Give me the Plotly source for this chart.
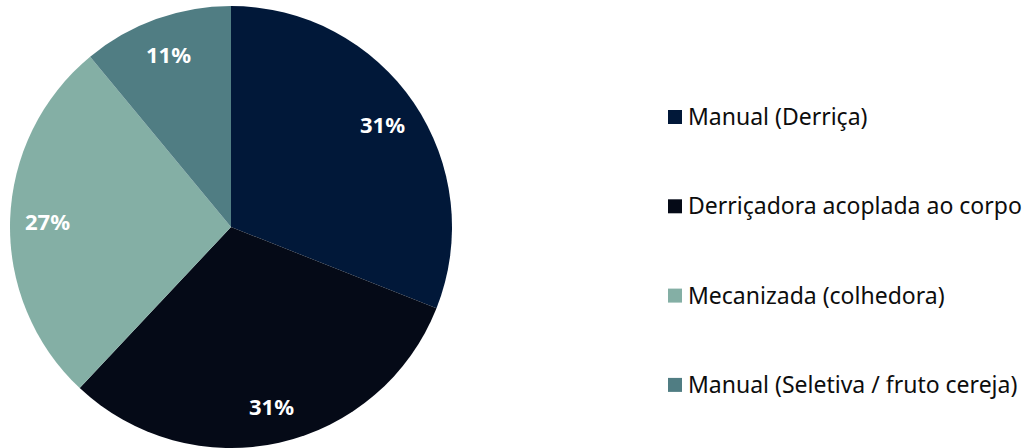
import math
import plotly.graph_objects as go

# Coffee harvest methods - share of area
labels = [
    "Manual (Derriça)",
    "Derriçadora acoplada ao corpo",
    "Mecanizada (colhedora)",
    "Manual (Seletiva / fruto cereja)",
]
values = [31, 31, 27, 11]
colors = ["#011839", "#050A17", "#84AFA5", "#507D83"]

W, H = 1030, 448
# pie geometry in pixels
cx, cy, R = 231, 227, 221

fig = go.Figure(
    go.Pie(
        labels=labels,
        values=values,
        sort=False,
        direction="clockwise",
        rotation=0,
        marker=dict(colors=colors, line=dict(width=0)),
        textinfo="none",
        hoverinfo="label+percent",
        showlegend=False,
        domain=dict(x=[(cx - R) / W, (cx + R) / W], y=[1 - (cy + R) / H, 1 - (cy - R) / H]),
    )
)

annotations = []
shapes = []

# percentage labels placed along each slice's bisector
total = sum(values)
cum = 0
for v in values:
    mid = (cum + v / 2) / total * 2 * math.pi
    cum += v
    r = 0.83 * R
    px = cx + r * math.sin(mid)
    py = cy - r * math.cos(mid)
    annotations.append(
        dict(
            x=px / W, y=1 - py / H, xref="paper", yref="paper",
            text=f"<b>{round(v / total * 100)}%</b>", showarrow=False,
            xanchor="center", yanchor="middle",
            font=dict(family="Noto Sans", size=22, color="white"),
        )
    )

# legend: colour square + label, evenly spaced
leg_x, leg_y0, leg_gap, sq = 668, 117, 89.3, 14
for i, (lab, col) in enumerate(zip(labels, colors)):
    yc = leg_y0 + i * leg_gap
    shapes.append(
        dict(
            type="rect", xref="paper", yref="paper",
            x0=leg_x / W, x1=(leg_x + sq) / W,
            y0=1 - (yc + sq / 2) / H, y1=1 - (yc - sq / 2) / H,
            fillcolor=col, line=dict(width=0),
        )
    )
    annotations.append(
        dict(
            x=(leg_x + sq + 4) / W, y=1 - (yc - 1) / H, xref="paper", yref="paper",
            text=lab, showarrow=False, xanchor="left", yanchor="middle",
            font=dict(family="Noto Sans", size=23, color="#0D0D0D"),
        )
    )

fig.update_layout(
    width=W, height=H,
    margin=dict(l=0, r=0, t=0, b=0),
    paper_bgcolor="white", plot_bgcolor="white",
    annotations=annotations, shapes=shapes,
)

fig.write_html("out.html")
